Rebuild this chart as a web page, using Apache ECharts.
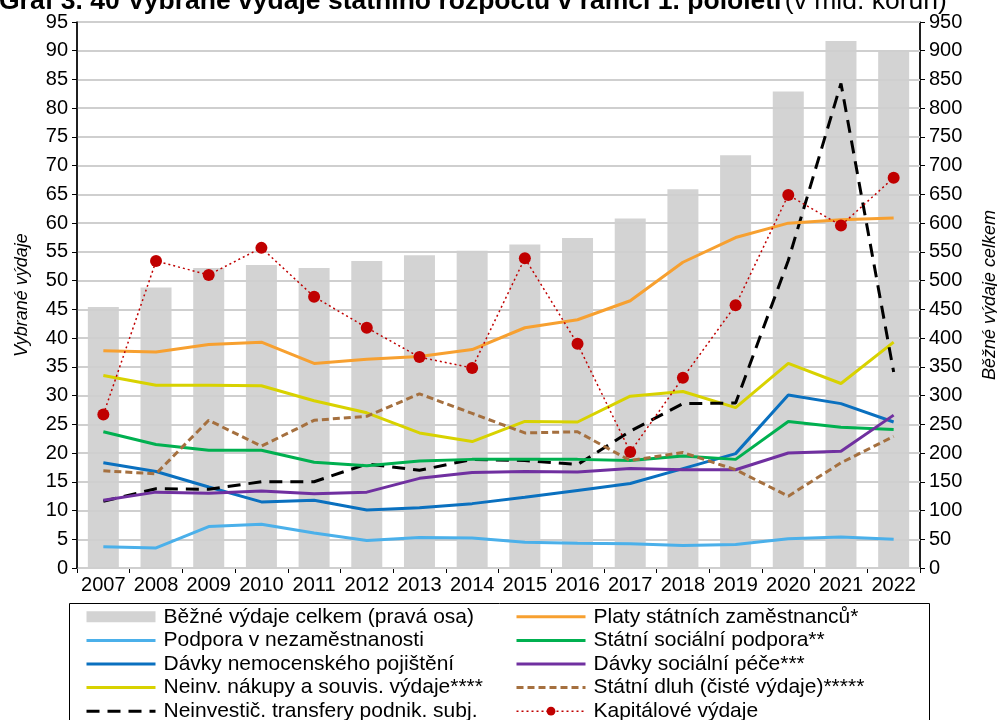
<!DOCTYPE html>
<html>
<head>
<meta charset="utf-8">
<script src="https://cdn.jsdelivr.net/npm/echarts@6/dist/echarts.min.js"></script>
<style>
  html, body { margin: 0; padding: 0; background: #fff; }
  #chart { width: 997px; height: 720px; }
</style>
</head>
<body>
<div id="chart"></div>
<script>
// roky a hodnoty (mld. Kč)
var years = ['2007', '2008', '2009', '2010', '2011', '2012', '2013', '2014',
             '2015', '2016', '2017', '2018', '2019', '2020', '2021', '2022'];
var bezneVydaje = [454, 488, 522, 527, 522, 534, 544, 552, 563, 574, 608, 659, 718, 829, 917, 900];
var platy = [37.8, 37.6, 38.9, 39.3, 35.6, 36.3, 36.8, 38.0, 41.8, 43.2, 46.5, 53.2, 57.5, 60.0, 60.6, 60.9];
var podporaNezam = [3.7, 3.5, 7.2, 7.6, 6.1, 4.8, 5.3, 5.2, 4.5, 4.3, 4.2, 3.9, 4.1, 5.1, 5.4, 5.0];
var socPodpora = [23.7, 21.5, 20.5, 20.5, 18.4, 17.8, 18.6, 18.9, 18.9, 18.9, 18.7, 19.5, 18.9, 25.5, 24.5, 24.1];
var nemocenske = [18.3, 16.8, 14.1, 11.5, 11.8, 10.1, 10.5, 11.2, 12.3, 13.5, 14.7, 17.3, 19.9, 30.1, 28.6, 25.4];
var socPece = [11.8, 13.2, 13.0, 13.4, 12.9, 13.2, 15.6, 16.6, 16.8, 16.7, 17.3, 17.1, 17.1, 20.0, 20.3, 26.6];
var nakupy = [33.5, 31.8, 31.8, 31.7, 29.1, 27.0, 23.5, 22.0, 25.5, 25.4, 29.9, 30.7, 27.9, 35.6, 32.1, 39.3];
var statniDluh = [16.9, 16.4, 25.7, 21.2, 25.7, 26.4, 30.3, 26.9, 23.5, 23.7, 18.7, 20.1, 17.1, 12.5, 18.3, 22.9];
var transfery = [11.6, 13.8, 13.7, 15.0, 15.0, 18.1, 17.0, 18.9, 18.7, 18.0, 23.8, 28.6, 28.7, 53.5, 84.3, 34.1];
var kapitalove = [26.7, 53.4, 51.0, 55.7, 47.2, 41.8, 36.7, 34.8, 53.9, 39.0, 20.2, 33.1, 45.7, 64.9, 59.6, 67.9];

var FONT = '"Liberation Sans", Arial, sans-serif';

var chart = echarts.init(document.getElementById('chart'));

function lineSerie (name, data, color, type, width) {
  return {
    name: name,
    type: 'line',
    data: data,
    symbol: 'none',
    z: 5,
    lineStyle: { color: color, width: width || 3, type: type || 'solid' },
    itemStyle: { color: color }
  };
}

// polozka legendy bez kolecka (jen cara)
function lineItem (name) {
  return { name: name, itemStyle: { opacity: 0 } };
}

var legendText = { fontFamily: FONT, fontSize: 21, color: '#000', lineHeight: 23.6, padding: [0, 0, 0, 3] };

var option = {
  backgroundColor: '#fff',
  animation: false,
  textStyle: { fontFamily: FONT },
  grid: {
    left: 77, right: 77, top: 22, bottom: 152,
    outerBoundsMode: 'none',
    show: true, borderColor: '#000', borderWidth: 1
  },
  graphic: [
    {
      type: 'text',
      left: -1, top: -12,
      style: {
        text: '{b|Graf 3. 40 Vybrané výdaje státního rozpočtu v rámci 1. pololetí} {n|(v mld. korun)}',
        rich: {
          b: { fontFamily: FONT, fontSize: 26.5, fontWeight: 'bold', fill: '#000' },
          n: { fontFamily: FONT, fontSize: 26.5, fill: '#000' }
        }
      }
    },
    {
      type: 'rect',
      shape: { x: 69.5, y: 603.5, width: 860, height: 140 },
      style: { fill: 'none', stroke: '#000', lineWidth: 1 }
    }
  ],
  legend: [
    {
      orient: 'vertical', left: 85, top: 605, height: 140, padding: 0,
      itemWidth: 69, itemHeight: 11, itemGap: 0,
      lineStyle: { width: 'inherit' },
      textStyle: legendText,
      data: [
        { name: 'Běžné výdaje celkem (pravá osa)', icon: 'rect' },
        lineItem('Podpora v nezaměstnanosti'),
        lineItem('Dávky nemocenského pojištění'),
        lineItem('Neinv. nákupy a souvis. výdaje****'),
        lineItem('Neinvestič. transfery podnik. subj.')
      ]
    },
    {
      orient: 'vertical', left: 515, top: 605, height: 140, padding: 0,
      itemWidth: 69, itemHeight: 11, itemGap: 0,
      lineStyle: { width: 'inherit' },
      textStyle: legendText,
      data: [
        lineItem('Platy státních zaměstnanců*'),
        lineItem('Státní sociální podpora**'),
        lineItem('Dávky sociální péče***'),
        lineItem('Státní dluh (čisté výdaje)*****'),
        'Kapitálové výdaje'
      ]
    }
  ],
  xAxis: {
    type: 'category',
    data: years,
    boundaryGap: true,
    axisLine: { lineStyle: { color: '#000', width: 1.5 } },
    axisTick: { show: true, length: 5, lineStyle: { color: '#000' } },
    axisLabel: { color: '#000', fontSize: 20, margin: 7, fontFamily: FONT, interval: 0 }
  },
  yAxis: [
    {
      type: 'value', min: 0, max: 95, interval: 5,
      name: 'Vybrané výdaje', nameLocation: 'middle', nameRotate: 90, nameGap: 46,
      nameTextStyle: { fontFamily: FONT, fontSize: 18, fontStyle: 'italic', color: '#000' },
      z: 3,
      axisLine: { show: true, lineStyle: { color: '#000', width: 1.5 } },
      axisTick: { show: true, length: 5, lineStyle: { color: '#000' } },
      axisLabel: { color: '#000', fontSize: 20, margin: 9, fontFamily: FONT },
      splitLine: { show: true, lineStyle: { color: '#cfcfcf', width: 2 } }
    },
    {
      type: 'value', min: 0, max: 950, interval: 50,
      name: 'Běžné výdaje celkem', nameLocation: 'middle', nameRotate: 90, nameGap: 61,
      nameTextStyle: { fontFamily: FONT, fontSize: 18, fontStyle: 'italic', color: '#000' },
      axisLine: { show: true, lineStyle: { color: '#000', width: 1.5 } },
      axisTick: { show: true, length: 5, lineStyle: { color: '#000' } },
      axisLabel: { color: '#000', fontSize: 20, margin: 9, fontFamily: FONT },
      splitLine: { show: false }
    }
  ],
  series: [
    {
      name: 'Běžné výdaje celkem (pravá osa)',
      type: 'bar',
      yAxisIndex: 1,
      data: bezneVydaje,
      barWidth: 31,
      z: 1,
      itemStyle: { color: '#d3d3d3' }
    },
    lineSerie('Podpora v nezaměstnanosti', podporaNezam, '#4bb0ea'),
    lineSerie('Dávky nemocenského pojištění', nemocenske, '#0a70bf'),
    lineSerie('Neinv. nákupy a souvis. výdaje****', nakupy, '#d8d200'),
    lineSerie('Neinvestič. transfery podnik. subj.', transfery, '#000000', [13, 8]),
    lineSerie('Platy státních zaměstnanců*', platy, '#f7a030'),
    lineSerie('Státní sociální podpora**', socPodpora, '#00b050'),
    lineSerie('Dávky sociální péče***', socPece, '#7030a0'),
    lineSerie('Státní dluh (čisté výdaje)*****', statniDluh, '#a5703f', [7, 4]),
    {
      name: 'Kapitálové výdaje',
      type: 'line',
      data: kapitalove,
      symbol: 'circle',
      symbolSize: 12,
      z: 6,
      lineStyle: { color: '#c00000', width: 1.5, type: [2, 3] },
      itemStyle: { color: '#c00000' }
    }
  ]
};

chart.setOption(option);
</script>
</body>
</html>
